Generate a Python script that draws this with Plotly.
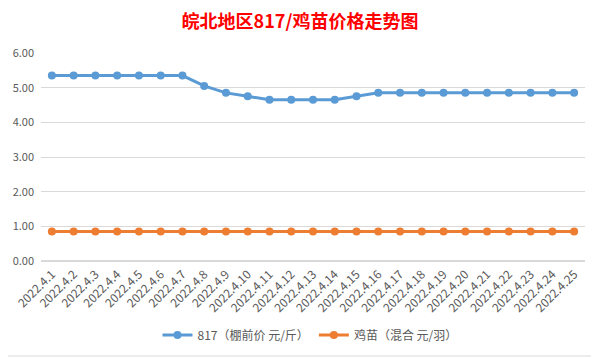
import plotly.graph_objects as go

dates = ["2022.4.%d" % d for d in range(1, 26)]
price_817 = [5.35, 5.35, 5.35, 5.35, 5.35, 5.35, 5.35, 5.05, 4.85, 4.75,
             4.65, 4.65, 4.65, 4.65, 4.75, 4.85, 4.85, 4.85, 4.85, 4.85,
             4.85, 4.85, 4.85, 4.85, 4.85]
price_chick = [0.85] * 25
y_ticks = [0, 1, 2, 3, 4, 5, 6]

fig = go.Figure()
fig.add_trace(go.Scatter(x=dates, y=price_817, mode="lines+markers",
                         name="817（棚前价 元/斤）",
                         line=dict(color="#5B9BD5", width=3),
                         marker=dict(size=8, color="#5B9BD5")))
fig.add_trace(go.Scatter(x=dates, y=price_chick, mode="lines+markers",
                         name="鸡苗（混合 元/羽）",
                         line=dict(color="#ED7D31", width=3),
                         marker=dict(size=8, color="#ED7D31")))

OFF = 8  # page body margin
W, H = 599 - OFF, 358 - OFF
L, T = 41 - OFF, 53 - OFF
R = W - (585 - OFF)
B = H - (261 - OFF)
pw, ph = W - L - R, H - T - B

def px(x):
    return (x - OFF - L) / pw

def py(y):
    return (H - B - (y - OFF)) / ph

fig.add_shape(type="rect", xref="paper", yref="paper",
              x0=px(2), x1=px(596), y0=py(356), y1=py(2),
              line=dict(color="#D9D9D9", width=1), layer="below")

fig.update_layout(
    width=W, height=H,
    margin=dict(l=L, r=R, t=T, b=B, autoexpand=False),
    paper_bgcolor="white", plot_bgcolor="white",
    title=dict(text="<b>皖北地区817/鸡苗价格走势图</b>", x=px(300), xanchor="center",
               xref="paper", y=1 - (22 - OFF) / H, yanchor="middle",
               font=dict(family="Noto Sans CJK SC", size=18, color="#FF0000")),
    font=dict(family="Noto Sans CJK SC, Liberation Sans", size=11, color="#595959"),
    xaxis=dict(type="category", range=[-0.5, 24.5], tickangle=-45,
               showgrid=False, showline=False, ticks="", automargin=False,
               ticklabelstandoff=3,
               tickfont=dict(size=12, color="#595959")),
    yaxis=dict(range=[0, 6], tickvals=y_ticks, tickformat=".2f", automargin=False,
               ticklabelstandoff=6,
               showgrid=True, gridcolor="#D9D9D9", gridwidth=1,
               zeroline=True, zerolinecolor="#D9D9D9", showline=False,
               tickfont=dict(size=11, color="#595959")),
    legend=dict(orientation="h", x=px(310), xanchor="center",
                y=py(335), yanchor="middle",
                font=dict(size=12, color="#595959")),
    showlegend=True,
)

fig.write_html("out.html")
